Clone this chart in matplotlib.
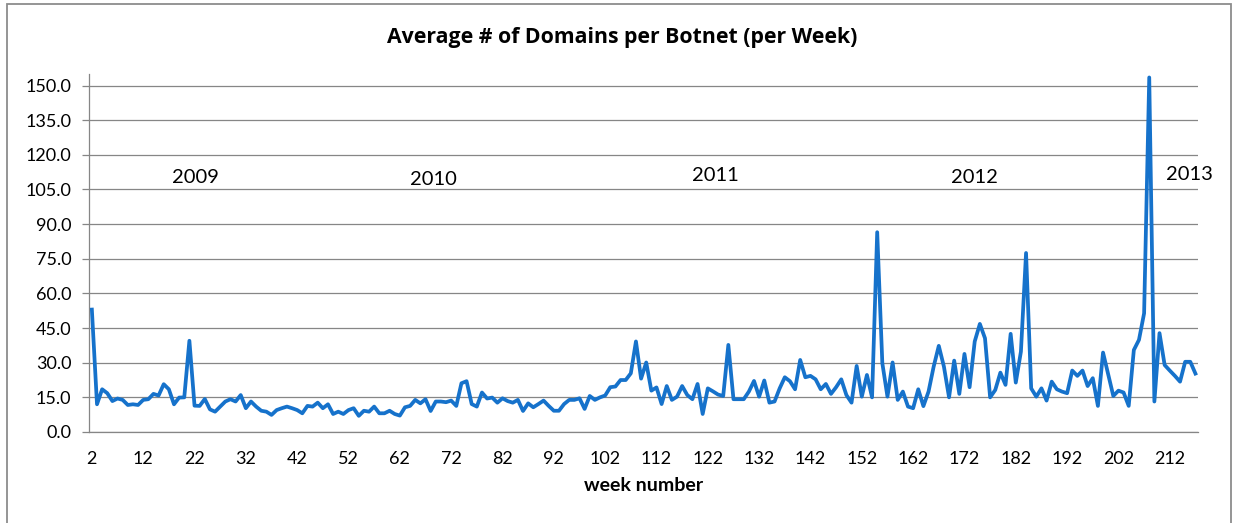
import matplotlib
matplotlib.use("Agg")
import matplotlib.pyplot as plt
from matplotlib.patches import Rectangle

# Weekly averages, weeks 2..217
weeks = list(range(2, 218))
avg_domains = [
    53.0, 12.0, 18.5, 16.8, 13.4, 14.5, 13.9, 11.7, 12.0, 11.7,   # 2-11
    13.9, 14.2, 16.5, 15.8, 20.7, 18.5, 12.0, 14.9, 15.0, 39.5,   # 12-21
    11.4, 11.3, 14.3, 9.8, 8.8, 11.0, 13.2, 14.2, 13.2, 16.0,     # 22-31
    10.3, 13.2, 11.0, 9.2, 8.8, 7.4, 9.5, 10.3, 11.0, 10.3,       # 32-41
    9.5, 8.1, 11.3, 11.0, 12.7, 10.3, 12.0, 7.8, 8.8, 7.8,        # 42-51
    9.5, 10.3, 7.0, 9.2, 8.8, 11.0, 8.1, 8.1, 9.2, 7.8,           # 52-61
    7.1, 10.7, 11.3, 13.9, 12.4, 14.2, 9.1, 13.2, 13.2, 12.9,     # 62-71
    13.6, 11.3, 21.1, 22.0, 12.1, 11.0, 17.1, 14.5, 14.9, 12.7,   # 72-81
    14.6, 13.4, 12.7, 13.9, 9.1, 12.4, 10.7, 12.1, 13.6, 11.3,    # 82-91
    9.2, 9.2, 12.1, 13.9, 13.9, 14.6, 10.0, 15.6, 13.9, 15.0,     # 92-101
    15.8, 19.4, 19.7, 22.5, 22.5, 25.4, 39.2, 23.1, 30.1, 17.9,   # 102-111
    19.3, 12.1, 19.9, 13.9, 15.3, 19.9, 16.0, 14.2, 20.8, 7.8,    # 112-121
    18.9, 17.6, 16.2, 15.6, 37.7, 14.2, 14.2, 14.2, 17.5, 22.1,   # 122-131
    15.3, 22.3, 12.7, 13.2, 18.9, 23.7, 22.0, 18.5, 31.2, 23.7,   # 132-141
    24.3, 22.8, 18.5, 20.8, 16.5, 19.4, 22.8, 16.0, 12.7, 28.6,   # 142-151
    15.3, 24.7, 15.0, 86.5, 29.8, 15.3, 30.1, 13.9, 17.5, 11.0,   # 152-161
    10.3, 18.5, 11.2, 17.5, 28.3, 37.3, 28.3, 15.0, 30.9, 16.5,   # 162-171
    33.8, 19.4, 39.2, 46.8, 40.6, 15.0, 18.2, 25.7, 20.4, 42.5,   # 172-181
    21.4, 34.8, 77.5, 18.9, 15.3, 18.9, 13.6, 21.8, 18.5, 17.5,   # 182-191
    16.8, 26.6, 24.3, 26.6, 19.9, 23.3, 11.3, 34.4, 25.0, 15.6,   # 192-201
    17.9, 17.1, 11.3, 35.5, 39.9, 51.4, 153.5, 13.2, 42.8, 29.0,  # 202-211
    26.6, 24.3, 21.8, 30.4, 30.4, 25.3,                           # 212-217
]

year_labels = ["2009", "2010", "2011", "2012", "2013"]
x_tick_weeks = list(range(2, 218, 10))
y_ticks = list(range(0, 151, 15))

FONT = "Lato"
GRID = "#868686"
LINE = "#1672CB"

fig = plt.figure(figsize=(12.33, 5.23), dpi=100)
W, H = 1233, 523

# chart-area frame
fig.patches.append(Rectangle((7 / W, -0.01), (1231 - 7) / W, (523 - 4) / H + 0.01,
                             transform=fig.transFigure, fill=False,
                             edgecolor="#8c8c8c", linewidth=1.3))

ax = fig.add_axes([89.3 / W, 1 - 432 / H, (1198 - 89.3) / W, (432 - 74) / H])

ax.plot(weeks, avg_domains, color=LINE, linewidth=2.7, solid_joinstyle="round",
        zorder=3)

ax.set_xlim(1.5, 217.5)
ax.set_ylim(0, 155)

ax.set_yticks(y_ticks)
ax.set_yticklabels([f"{v:.1f}" for v in y_ticks], fontsize=13, family=FONT)
ax.set_xticks(x_tick_weeks)
ax.set_xticklabels([str(w) for w in x_tick_weeks], fontsize=13, family=FONT)

ax.tick_params(axis="y", length=5, width=0.9, color=GRID, pad=8)
ax.tick_params(axis="x", length=0, pad=14)

ax.yaxis.grid(True, color=GRID, linewidth=0.9)
ax.set_axisbelow(True)
for s in ("top", "right"):
    ax.spines[s].set_visible(False)
for s in ("left", "bottom"):
    ax.spines[s].set_color(GRID)
    ax.spines[s].set_linewidth(0.9)

ax.set_xlabel("week number", fontsize=14, family=FONT, fontweight="bold",
              labelpad=7)

fig.text(622 / W, 1 - 37 / H, "Average # of Domains per Botnet (per Week)",
         ha="center", va="center", fontsize=15.3, family="Open Sans",
         fontweight="bold")

# year markers
year_pos = [(22.1, 110.1), (68.5, 109.2), (123.4, 111.0), (173.9, 110.1),
            (215.9, 111.4)]
for label, (xw, yv) in zip(year_labels, year_pos):
    ax.text(xw, yv, label, ha="center", va="center", fontsize=14.5,
            family=FONT, clip_on=False)

fig.savefig("out.png", dpi=100, facecolor="white")
